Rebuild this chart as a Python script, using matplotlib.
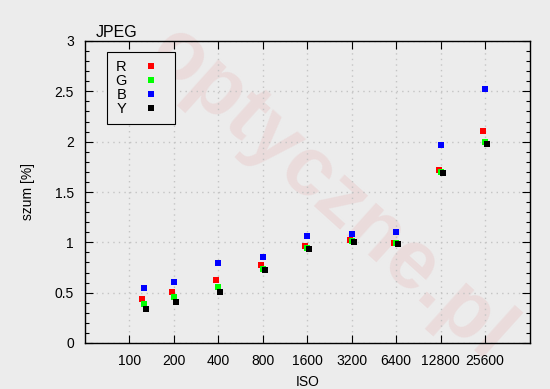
import matplotlib
matplotlib.use("Agg")
import matplotlib.pyplot as plt
import matplotlib.transforms as mtransforms
from matplotlib.ticker import FixedLocator, NullLocator

plt.rcParams['font.family'] = ['Liberation Sans', 'DejaVu Sans']

iso = [125, 200, 400, 800, 1600, 3200, 6400, 12800, 25600]
tick_values = [100, 200, 400, 800, 1600, 3200, 6400, 12800, 25600]
tick_labels = ['100', '200', '400', '800', '1600', '3200', '6400', '12800', '25600']
y_ticks = [0, 0.5, 1, 1.5, 2, 2.5, 3]
y_tick_labels = ['0', '0.5', '1', '1.5', '2', '2.5', '3']

R = [0.44, 0.51, 0.63, 0.77, 0.96, 1.02, 0.99, 1.72, 2.11]
G = [0.39, 0.46, 0.56, 0.74, 0.94, 1.01, 0.99, 1.70, 2.00]
B = [0.55, 0.61, 0.79, 0.85, 1.06, 1.08, 1.10, 1.97, 2.52]
Y = [0.34, 0.41, 0.51, 0.73, 0.93, 1.00, 0.98, 1.69, 1.98]

series = [('R', R, '#ff0000', -2), ('G', G, '#00ff00', 0),
          ('B', B, '#0000ff', 0), ('Y', Y, '#000000', 2)]

bg = '#ececec'
fig = plt.figure(figsize=(5.5, 3.89), dpi=100, facecolor=bg)
ax = fig.add_axes([85/550, 46/389, (529.5-85)/550, (343-41)/389])
ax.set_facecolor(bg)

# watermark (behind the data)
ax.text(0.60, 0.50, 'optyczne.pl', fontsize=60, fontweight='bold',
        color='#e8c8c8', rotation=-42, ha='center', va='center', zorder=0.5,
        alpha=0.45, transform=fig.transFigure, clip_on=False)

for name, vals, col, off in series:
    tr = ax.transData + mtransforms.ScaledTranslation(off/100, 0, fig.dpi_scale_trans)
    ax.plot(iso, vals, linestyle='none', marker='s', markersize=5,
            color=col, markeredgewidth=0, label=name, transform=tr, zorder=3)

ax.set_xscale('log', base=2)
ax.set_xlim(50, 51200)
ax.set_ylim(0, 3)
ax.xaxis.set_major_locator(FixedLocator(tick_values))
ax.set_xticklabels(tick_labels)
ax.xaxis.set_minor_locator(NullLocator())
ax.yaxis.set_major_locator(FixedLocator(y_ticks))
ax.set_yticklabels(y_tick_labels)
ax.yaxis.set_minor_locator(FixedLocator([i / 10 for i in range(31)]))

ax.tick_params(which='both', direction='in', top=True, right=True,
               labelsize=10, colors='black')
ax.tick_params(which='major', length=6, width=0.8, pad=8)
ax.tick_params(which='minor', length=3, width=0.8)

ax.grid(True, which='major', linestyle=(0, (1, 3)), color='#c4c4c4', linewidth=1)
ax.set_axisbelow(True)
for s in ax.spines.values():
    s.set_linewidth(1)
    s.set_color('black')

ax.set_xlabel('ISO', fontsize=10, labelpad=5)
ax.set_ylabel('szum [%]', fontsize=10, labelpad=14)
ax.set_title('JPEG', loc='left', fontsize=11.5, pad=3, x=0.025)

leg = ax.legend(loc='upper left', bbox_to_anchor=(22/444.5, 1-11/302),
                markerfirst=False, frameon=True, fancybox=False,
                edgecolor='black', facecolor=bg, framealpha=1,
                fontsize=10.5, handlelength=2.2, handletextpad=0.6,
                labelspacing=0.0, borderpad=0.55, borderaxespad=0)
leg.get_frame().set_linewidth(0.8)
leg.set_zorder(4)

fig.savefig('out.png', dpi=100, facecolor=bg)
